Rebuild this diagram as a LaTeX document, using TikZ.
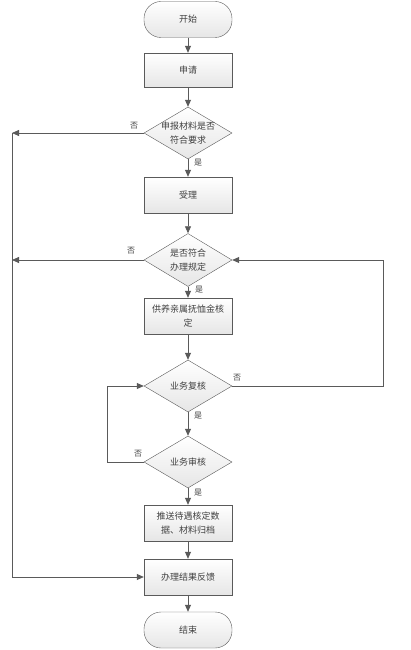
\documentclass[tikz,border=0pt]{standalone}
\usepackage{fontspec}
\setmainfont{Noto Sans CJK SC}
\usepackage{tikz}
\usetikzlibrary{arrows.meta, positioning, shapes.geometric, calc}
\usepackage{xcolor}
\definecolor{linegray}{HTML}{5A5A5A}
\definecolor{textgray}{HTML}{404040}
\definecolor{fillgray}{HTML}{E6E6E6}

\begin{document}
\begin{tikzpicture}[
        x=1pt, y=-1pt,
        box/.style={rectangle, draw=linegray, top color=white, bottom color=fillgray, minimum width=88pt, minimum height=36pt, inner sep=2pt, align=center, text=textgray, font=\fontsize{9}{14}\selectfont},
        term/.style={box, rounded corners=17pt},
        decision/.style={diamond, draw=linegray, top color=white, bottom color=fillgray, aspect=1.7, minimum width=88pt, minimum height=52pt, inner sep=-3pt, align=center, text=textgray, font=\fontsize{9}{14}\selectfont},
        arr/.style={-{Triangle[length=7pt, width=6pt]}, draw=linegray, line width=0.8pt},
        lbl/.style={font=\fontsize{8}{8}\selectfont, text=textgray, inner sep=0pt},
    ]
        \useasboundingbox (0,0) rectangle (410,650);

        % Start
        \node[term] (start) at (188, 19.5) {开始};

        % Apply
        \node[box, minimum height=34pt] (apply) at (188, 70) {申请};

        % Check materials
        \node[decision] (check1) at (188, 133) {申报材料是否\\符合要求};

        % Accept
        \node[box] (accept) at (188, 195) {受理};

        % Check rules
        \node[decision, minimum height=53pt] (check2) at (188, 260) {是否符合\\办理规定};

        % Verify amount
        \node[box] (verify) at (188, 316) {供养亲属抚恤金核\\定};

        % Review
        \node[decision] (review) at (188, 386) {业务复核};

        % Audit
        \node[decision] (audit) at (188, 462) {业务审核};

        % Push data
        \node[box] (push) at (188, 523) {推送待遇核定数\\据、材料归档};

        % Feedback
        \node[box] (feedback) at (188, 577) {办理结果反馈};

        % End
        \node[term] (finish) at (188, 630) {结束};

        % Corner points
        \coordinate (lefttop) at (12, 133);
        \coordinate (leftmid) at (12, 260);
        \coordinate (rightcorner) at (383, 386);
        \coordinate (innercorner) at (107, 462);

        % Arrows
        \draw[arr] (start) -- (apply);
        \draw[arr] (apply) -- (check1);
        \draw[arr] (check1) -- (accept);
        \draw[arr] (accept) -- (check2);
        \draw[arr] (check2) -- (verify);
        \draw[arr] (verify) -- (review);
        \draw[arr] (review) -- (audit);
        \draw[arr] (audit) -- (push);
        \draw[arr] (push) -- (feedback);
        \draw[arr] (feedback) -- (finish);

        % Loops
        \draw[arr] (check1.west) -- (lefttop);
        \draw[arr] (check2.west) -- (leftmid);
        \draw[arr] (lefttop) |- (feedback.west);
        \draw[arr] (review.east) -- (rightcorner) |- (check2.east);
        \draw[arr] (audit.west) -- (innercorner) |- (review.west);

        % Labels
        \node[lbl] (no1) at (134, 126) {否};
        \node[lbl] (yes1) at (198, 163) {是};
        \node[lbl] (no2) at (131, 251) {否};
        \node[lbl] (yes2) at (199, 290) {是};
        \node[lbl] (no3) at (237, 378) {否};
        \node[lbl] (yes3) at (198, 416) {是};
        \node[lbl] (no4) at (138, 454) {否};
        \node[lbl] (yes4) at (198, 493) {是};
    \end{tikzpicture}
\end{document}
